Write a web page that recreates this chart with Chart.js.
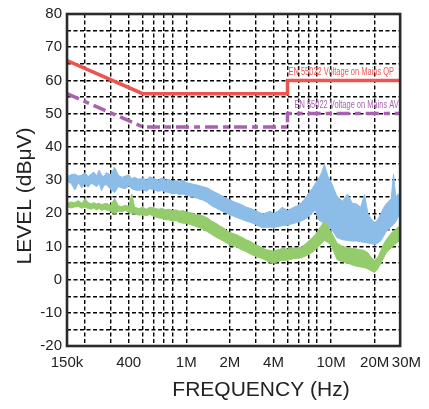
<!DOCTYPE html>
<html>
<head>
<meta charset="utf-8">
<script src="https://cdn.jsdelivr.net/npm/chart.js@4.4.0/dist/chart.umd.min.js"></script>
<style>
  body { margin: 0; background: #fff; }
  canvas { display: block; }
</style>
</head>
<body>
<canvas id="emiChart" width="429" height="409"></canvas>
<script>
// frequency points of the scan, MHz
const freqMHz = [0.15, 0.16, 0.17, 0.18, 0.19, 0.20, 0.21, 0.22, 0.23, 0.24, 0.25, 0.26, 0.27, 0.28, 0.30, 0.32, 0.34, 0.36, 0.38, 0.40,
  0.42, 0.44, 0.47, 0.50, 0.53, 0.56, 0.60, 0.64, 0.68, 0.72, 0.76, 0.80, 0.85, 0.90, 0.95, 1.0, 1.1, 1.2, 1.3, 1.4,
  1.5, 1.6, 1.7, 1.8, 1.9, 2.0, 2.2, 2.4, 2.6, 2.8, 3.0, 3.2, 3.4, 3.6, 3.8, 4.0, 4.3, 4.6, 5.0, 5.4,
  5.8, 6.2, 6.6, 7.0, 7.4, 7.8, 8.2, 8.6, 9.0, 9.5, 10, 11, 12, 13, 14, 15, 16, 17, 18, 19,
  20, 21, 22, 23, 24, 25, 26, 27, 28, 29, 30];

// blue trace (peak scan), upper and lower edge of the noise band, dBuV
const blueHigh = [31.0, 31.6, 31.8, 31.2, 31.5, 32.2, 31.0, 31.8, 32.4, 31.2, 33.0, 31.4, 31.0, 32.2, 31.6, 33.8, 31.4, 30.8, 31.2, 31.6,
  30.4, 30.8, 30.2, 30.6, 30.0, 31.0, 30.4, 30.0, 30.6, 30.0, 30.2, 29.6, 29.8, 29.4, 30.0, 29.2, 28.8, 28.4, 28.0, 27.6,
  26.8, 26.2, 25.6, 25.0, 24.4, 24.0, 23.2, 22.6, 21.8, 21.4, 20.8, 20.2, 19.8, 20.2, 20.6, 20.0, 20.6, 21.8, 20.8, 21.6,
  22.2, 23.0, 24.4, 26.0, 27.4, 29.0, 30.4, 32.2, 34.6, 31.2, 29.4, 25.0, 23.6, 25.8, 23.0, 22.8, 21.8, 25.6, 19.8, 18.2,
  17.2, 18.0, 19.8, 21.6, 22.8, 23.6, 24.4, 31.8, 24.8, 25.8, 25.2];
const blueLow = [29.5, 29.0, 27.0, 29.2, 27.6, 29.0, 27.8, 29.0, 28.6, 28.0, 29.0, 26.8, 28.4, 28.6, 27.2, 26.2, 28.0, 27.6, 27.4, 28.2,
  27.4, 27.0, 26.8, 27.2, 26.6, 27.4, 27.0, 26.6, 26.8, 26.4, 26.2, 25.8, 26.0, 25.6, 25.8, 25.4, 25.0, 24.4, 24.0, 23.2,
  22.2, 21.6, 21.0, 20.4, 20.0, 19.6, 18.8, 18.2, 17.6, 17.2, 16.6, 16.0, 15.6, 15.8, 15.8, 15.6, 16.0, 16.2, 16.4, 16.8,
  17.2, 17.6, 18.2, 19.0, 20.0, 21.0, 18.0, 17.4, 17.0, 16.0, 15.4, 12.6, 12.0, 11.8, 11.6, 11.6, 11.4, 11.2, 11.0, 10.8,
  10.6, 11.0, 11.6, 13.0, 14.4, 15.2, 16.0, 16.6, 17.4, 18.8, 19.6];

// green trace (average scan), upper and lower edge, dBuV
const greenHigh = [23.0, 23.4, 23.2, 23.8, 23.0, 24.4, 23.2, 22.8, 23.2, 22.8, 23.0, 22.6, 22.8, 23.0, 22.4, 24.4, 22.2, 22.0, 22.4, 22.0,
  25.8, 21.8, 21.4, 21.8, 21.2, 21.8, 21.6, 21.2, 21.4, 21.0, 21.2, 20.8, 21.0, 20.6, 20.8, 20.4, 20.0, 19.4, 19.2, 18.6,
  17.6, 17.0, 16.2, 15.6, 14.8, 14.2, 13.6, 12.8, 12.0, 11.4, 10.6, 10.0, 9.4, 9.0, 8.8, 8.6, 9.0, 9.4, 9.2, 9.6,
  9.4, 9.8, 10.6, 11.6, 12.6, 13.6, 15.0, 16.4, 17.6, 16.0, 14.4, 11.0, 10.0, 9.6, 9.4, 9.2, 9.0, 8.8, 8.0, 6.6,
  5.8, 6.6, 8.6, 10.6, 12.0, 13.0, 14.0, 14.6, 15.2, 15.8, 16.0];
const greenLow = [21.8, 21.6, 21.9, 22.0, 21.5, 21.8, 21.4, 21.2, 21.6, 21.0, 21.4, 20.8, 21.2, 21.0, 20.6, 19.8, 20.6, 20.4, 20.8, 20.2,
  20.0, 19.8, 19.4, 19.6, 19.2, 19.6, 19.0, 18.6, 18.4, 18.0, 18.0, 17.6, 17.8, 17.2, 17.0, 17.0, 16.4, 15.8, 15.2, 14.4,
  13.6, 12.8, 12.2, 11.6, 11.0, 10.4, 10.0, 9.0, 8.4, 7.6, 7.0, 6.6, 6.2, 5.6, 5.2, 5.0, 5.4, 5.8, 5.8, 6.2,
  6.4, 6.6, 7.0, 7.6, 8.2, 9.0, 10.0, 11.0, 11.8, 11.2, 10.4, 6.0, 5.4, 5.0, 4.4, 4.0, 3.8, 3.6, 3.2, 2.6,
  2.2, 3.2, 4.8, 6.4, 8.0, 8.8, 9.6, 10.2, 10.8, 11.4, 11.8];

// EN 55022 limits
const qpFreq = [0.15, 0.5, 5, 5, 30];
const qpLimit = [66, 56, 56, 60, 60];
const avFreq = [0.15, 0.5, 5, 5, 30];
const avLimit = [56, 46, 46, 50, 50];

// axis
const gridFreqs = [0.15, 0.2, 0.3, 0.4, 0.5, 0.6, 0.7, 0.8, 1, 2, 3, 4, 5, 6, 7, 8, 10, 20, 30];
const freqLabels = { 0.15: '150k', 0.4: '400', 1: '1M', 2: '2M', 4: '4M', 10: '10M', 20: '20M', 30: '   30M' };

function toPoints(xs, ys) {
    return xs.map((x, i) => ({ x: x, y: ys[i] }));
}

const FONT = 'Liberation Sans, Arial, Helvetica, sans-serif';

const extrasPlugin = {
    id: 'extras',
    afterDraw(chart) {
        const ctx = chart.ctx;
        const a = chart.chartArea;
        const xs = chart.scales.x, ys = chart.scales.y;
        ctx.save();
        // frame
        ctx.strokeStyle = '#2b2b2b';
        ctx.lineWidth = 2.6;
        ctx.strokeRect(a.left, a.top, a.right - a.left, a.bottom - a.top);

        // limit line captions, condensed
        ctx.font = '11px ' + FONT;
        ctx.textBaseline = 'alphabetic';
        ctx.save();
        ctx.translate(xs.getPixelForValue(5) + 1, ys.getPixelForValue(60) - 5);
        ctx.scale(0.68, 1);
        ctx.fillStyle = '#ef5350';
        ctx.fillText('EN 55022 Voltage on Mains QP', 0, 0);
        ctx.restore();
        ctx.save();
        ctx.translate(xs.getPixelForValue(5) + 7, ys.getPixelForValue(50) - 6);
        ctx.scale(0.68, 1);
        ctx.fillStyle = '#a862b0';
        ctx.fillText('EN 55022 Voltage on Mains AV', 0, 0);
        ctx.restore();

        // axis titles
        ctx.fillStyle = '#222';
        ctx.font = '21px ' + FONT;
        ctx.textAlign = 'center';
        ctx.textBaseline = 'middle';
        ctx.fillText('FREQUENCY (Hz)', 261, 390);
        ctx.translate(25, 196);
        ctx.rotate(-Math.PI / 2);
        ctx.fillText('LEVEL (dBμV)', 0, 0);
        ctx.restore();
    }
};

const ctx = document.getElementById('emiChart').getContext('2d');
const emiChart = new Chart(ctx, {
    type: 'line',
    data: {
        datasets: [
            {
                label: 'QP limit',
                data: toPoints(qpFreq, qpLimit),
                borderColor: '#ef5350',
                borderWidth: 3.5,
                pointRadius: 0,
                fill: false
            },
            {
                label: 'AV limit',
                data: toPoints(avFreq, avLimit),
                borderColor: '#a862b0',
                borderWidth: 3.5,
                borderDash: [13, 5, 6, 5],
                pointRadius: 0,
                fill: false
            },
            {
                label: 'AV high',
                data: toPoints(freqMHz, greenHigh),
                borderColor: '#94cc6c',
                backgroundColor: '#94cc6c',
                borderWidth: 1,
                pointRadius: 0,
                fill: '+1'
            },
            {
                label: 'AV low',
                data: toPoints(freqMHz, greenLow),
                borderColor: '#94cc6c',
                borderWidth: 1,
                pointRadius: 0,
                fill: false
            },
            {
                label: 'PK high',
                data: toPoints(freqMHz, blueHigh),
                borderColor: '#8bbde8',
                backgroundColor: '#8bbde8',
                borderWidth: 1,
                pointRadius: 0,
                fill: '+1'
            },
            {
                label: 'PK low',
                data: toPoints(freqMHz, blueLow),
                borderColor: '#8bbde8',
                borderWidth: 1,
                pointRadius: 0,
                fill: false
            }
        ]
    },
    options: {
        responsive: false,
        animation: false,
        events: [],
        layout: { padding: { top: 12, right: 25, left: 0, bottom: 0 } },
        plugins: {
            legend: { display: false },
            tooltip: { enabled: false }
        },
        elements: { line: { tension: 0 } },
        scales: {
            x: {
                type: 'logarithmic',
                min: 0.15,
                max: 30,
                afterBuildTicks(scale) {
                    scale.ticks = gridFreqs.map(v => ({ value: v }));
                },
                afterFit(scale) { scale.height = 63; },
                grid: { color: '#000', lineWidth: 1.4, drawTicks: false },
                border: { display: false, dash: [4, 2.5] },
                ticks: {
                    autoSkip: false,
                    maxRotation: 0,
                    padding: 8,
                    color: '#222',
                    font: { family: FONT, size: 15 },
                    callback: v => freqLabels[v] || ''
                }
            },
            y: {
                min: -20,
                max: 80,
                afterFit(scale) { scale.width = 67; },
                grid: { color: '#000', lineWidth: 1.4, drawTicks: false },
                border: { display: false, dash: [4, 2.5] },
                ticks: {
                    stepSize: 5,
                    autoSkip: false,
                    padding: 5,
                    color: '#222',
                    font: { family: FONT, size: 15 },
                    callback: v => (v % 10 === 0 ? v : '')
                }
            }
        }
    },
    plugins: [extrasPlugin]
});
</script>
</body>
</html>
